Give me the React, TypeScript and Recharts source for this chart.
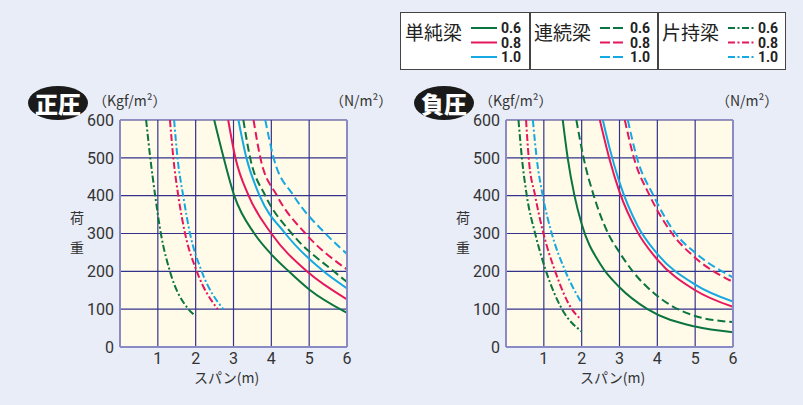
import React from "react"
import { LineChart, Line, XAxis, YAxis, CartesianGrid } from "recharts"

// span (m) / load (Kgf/m2) pairs
type Pt = [number, number]

const xTicks = [0, 1, 2, 3, 4, 5, 6]
const yTicks = [0, 100, 200, 300, 400, 500, 600]
const rightTicks = [100, 200, 300, 400, 500, 600]

// 正圧
const posSimple06: Pt[] = [[2.49, 600], [2.74, 500], [3.02, 400], [3.55, 300], [4, 245], [4.46, 200], [5, 152], [6, 90]]
const posSimple08: Pt[] = [[2.86, 600], [3.05, 500], [3.4, 400], [4, 300], [4.94, 200], [6, 126]]
const posSimple10: Pt[] = [[3.13, 600], [3.34, 500], [3.69, 400], [4.37, 300], [5.38, 200], [6, 155]]
const posCont06: Pt[] = [[3.26, 600], [3.44, 500], [3.84, 400], [4.54, 300], [5.65, 200], [6, 172]]
const posCont08: Pt[] = [[3.53, 600], [3.71, 500], [4.15, 400], [4.9, 300], [6, 205]]
const posCont10: Pt[] = [[3.84, 600], [4.06, 500], [4.59, 400], [5.43, 300], [6, 246]]
const posCant06: Pt[] = [[0.69, 600], [0.8, 500], [0.93, 400], [1.08, 300], [1.32, 200], [1.81, 100], [2.0, 82]]
const posCant08: Pt[] = [[1.32, 600], [1.41, 500], [1.54, 400], [1.72, 300], [2.03, 200], [2.58, 100]]
const posCant10: Pt[] = [[1.43, 600], [1.52, 500], [1.67, 400], [1.85, 300], [2.16, 200], [2.73, 100]]

// 負圧
const negSimple06: Pt[] = [[1.5, 600], [1.63, 500], [1.81, 400], [2, 325], [2.5, 218], [3, 158], [3.74, 100], [5, 54], [6, 39]]
const negSimple08: Pt[] = [[2.48, 600], [2.74, 495], [3, 410], [3.47, 305], [4, 231], [5, 150], [6, 106]]
const negSimple10: Pt[] = [[2.56, 600], [2.74, 525], [3, 435], [3.47, 322], [4, 246], [5, 165], [6, 120]]
const negCont06: Pt[] = [[1.86, 600], [2.05, 500], [2.32, 400], [2.7, 300], [3, 250], [3.35, 200], [4, 135], [5, 82], [6, 66]]
const negCont08: Pt[] = [[3.14, 600], [3.38, 500], [3.8, 400], [4.39, 300], [5, 236], [6, 172]]
const negCont10: Pt[] = [[3.22, 600], [3.46, 500], [3.9, 400], [4.48, 300], [5, 249], [6, 184]]
const negCant06: Pt[] = [[0.33, 600], [0.42, 500], [0.55, 400], [0.77, 300], [1.06, 200], [1.48, 100], [2.0, 41]]
const negCant08: Pt[] = [[0.53, 600], [0.6, 500], [0.77, 400], [0.99, 300], [1.3, 200], [1.74, 100], [2.0, 72]]
const negCant10: Pt[] = [[0.71, 600], [0.81, 500], [0.97, 400], [1.21, 300], [1.57, 200], [2.0, 116]]

const GREEN = "#0b7440"
const RED = "#e5175d"
const CYAN = "#16a8e2"
const DASH = "8 4"
const DASHDOT = "7 2.5 2 2.5"

const ratios = ["0.6", "0.8", "1.0"]
const colors = [GREEN, RED, CYAN]

const toRows = (pts: Pt[]) => pts.map(([x, y]) => ({ x, y }))

const tickFont = "'Liberation Sans Narrow', 'Roboto', sans-serif"
const jpFont = "'Noto Sans CJK JP', sans-serif"

function RightTick(props: any) {
  const { x, y, payload } = props
  return (
    <text x={x + 28} y={y} dy="0.35em" textAnchor="end" fontSize={16} fill="#333" fontFamily={tickFont}>
      {Math.round(payload.value * 9.8)}
    </text>
  )
}

function Panel({ left, badge, series }: { left: number; badge: string; series: { pts: Pt[]; color: string; dash?: string }[] }) {
  return (
    <>
      <div style={{ position: "absolute", left: left - 32, top: 86, width: 60, height: 34, borderRadius: "50%", background: "#1a1a1a", color: "#fff", fontFamily: jpFont, fontWeight: 900, fontSize: 23, lineHeight: "34px", textAlign: "center" }}>{badge}</div>
      <div style={{ position: "absolute", left: left + 33, top: 90, fontFamily: jpFont, fontSize: 14, color: "#333" }}>（Kgf/m²）</div>
      <div style={{ position: "absolute", left: left + 270, top: 90, fontFamily: jpFont, fontSize: 14, color: "#333" }}>（N/m²）</div>
      <div style={{ position: "absolute", left: left + 10, top: 202, fontFamily: jpFont, fontSize: 14, color: "#333", lineHeight: "30px", width: 16 }}>荷<br />重</div>
      <div style={{ position: "absolute", left: left + 134, top: 367, fontFamily: jpFont, fontSize: 14, color: "#333" }}>スパン(m)</div>
      <div style={{ position: "absolute", left, top: 100 }}>
        <LineChart width={360} height={290} margin={{ top: 20, right: 28, left: 0, bottom: 13 }}>
          <CartesianGrid yAxisId="l" stroke="#33338d" strokeWidth={1.2} fill="#fffbe8" fillOpacity={1} />
          <XAxis type="number" dataKey="x" domain={[0, 6]} ticks={xTicks} allowDataOverflow height={30}
            tickFormatter={(v) => (v === 0 ? "" : String(v))} tickLine={false} tickSize={4} tickMargin={2}
            axisLine={{ stroke: "#8a8ac6", strokeWidth: 2 }} tick={{ fontSize: 16, fill: "#333", fontFamily: tickFont }} />
          <YAxis yAxisId="l" type="number" domain={[0, 600]} ticks={yTicks} allowDataOverflow width={60}
            tickLine={false} tickSize={4} tickMargin={2} axisLine={{ stroke: "#8a8ac6", strokeWidth: 2 }}
            tick={{ fontSize: 16, fill: "#333", fontFamily: tickFont }} />
          <YAxis yAxisId="r" orientation="right" type="number" domain={[0, 600]} ticks={rightTicks} width={45}
            tickLine={false} tickSize={4} tickMargin={2} axisLine={{ stroke: "#8a8ac6", strokeWidth: 2 }} tick={<RightTick />} />
          {series.map((s, i) => (
            <Line key={i} yAxisId="l" data={toRows(s.pts)} dataKey="y" type="monotone" stroke={s.color}
              strokeWidth={2} strokeDasharray={s.dash} dot={false} isAnimationActive={false} />
          ))}
        </LineChart>
      </div>
    </>
  )
}

function LegendCell({ left, title, dash }: { left: number; title: string; dash?: string }) {
  return (
    <div style={{ position: "absolute", left, top: 0, width: 128, height: 57 }}>
      <div style={{ position: "absolute", left: 4, top: 5, fontFamily: jpFont, fontSize: 19, color: "#222" }}>{title}</div>
      <svg style={{ position: "absolute", left: 0, top: 0 }} width={128} height={57}>
        {ratios.map((r, i) => (
          <g key={r}>
            <line x1={70} x2={96} y1={15 + i * 14.5} y2={15 + i * 14.5} stroke={colors[i]} strokeWidth={2} strokeDasharray={dash} />
            <text x={100} y={15 + i * 14.5} dy="0.36em" fontSize={14} fontWeight="bold" fill="#222" fontFamily={tickFont}>{r}</text>
          </g>
        ))}
      </svg>
    </div>
  )
}

export default function App() {
  const pos = [
    { pts: posSimple06, color: GREEN }, { pts: posSimple08, color: RED }, { pts: posSimple10, color: CYAN },
    { pts: posCont06, color: GREEN, dash: DASH }, { pts: posCont08, color: RED, dash: DASH }, { pts: posCont10, color: CYAN, dash: DASH },
    { pts: posCant06, color: GREEN, dash: DASHDOT }, { pts: posCant08, color: RED, dash: DASHDOT }, { pts: posCant10, color: CYAN, dash: DASHDOT },
  ]
  const neg = [
    { pts: negSimple06, color: GREEN }, { pts: negSimple08, color: RED }, { pts: negSimple10, color: CYAN },
    { pts: negCont06, color: GREEN, dash: DASH }, { pts: negCont08, color: RED, dash: DASH }, { pts: negCont10, color: CYAN, dash: DASH },
    { pts: negCant06, color: GREEN, dash: DASHDOT }, { pts: negCant08, color: RED, dash: DASHDOT }, { pts: negCant10, color: CYAN, dash: DASHDOT },
  ]
  return (
    <div style={{ position: "absolute", left: 0, top: 0, width: 803, height: 405, background: "#e9edf7", overflow: "hidden" }}>
      <div style={{ position: "absolute", left: 400, top: 12, width: 386, height: 58, background: "#fff", border: "1.5px solid #444", boxSizing: "border-box" }}>
        <LegendCell left={0} title="単純梁" />
        <div style={{ position: "absolute", left: 128, top: 0, width: 1.5, height: "100%", background: "#444" }} />
        <LegendCell left={129} title="連続梁" dash="10 3" />
        <div style={{ position: "absolute", left: 256, top: 0, width: 1.5, height: "100%", background: "#444" }} />
        <LegendCell left={257} title="片持梁" dash="7 2.5 2 2.5" />
      </div>
      <Panel left={60} badge="正圧" series={pos} />
      <Panel left={446} badge="負圧" series={neg} />
    </div>
  )
}
